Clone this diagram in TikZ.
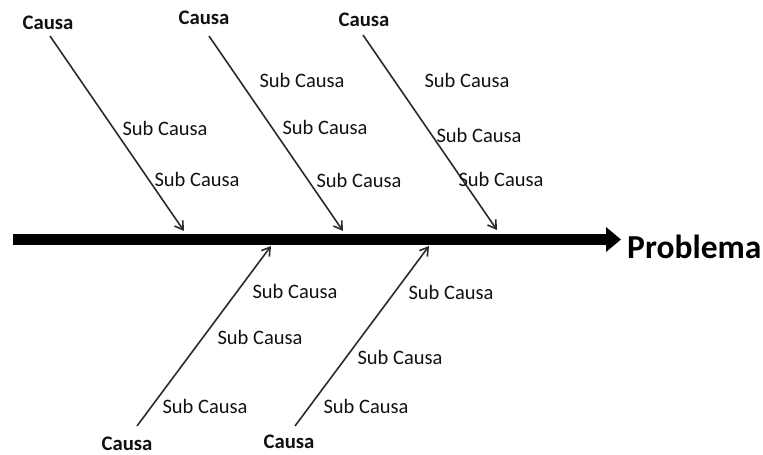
\documentclass[tikz,border=0pt]{standalone}
\usepackage{fontspec}
\setmainfont{Carlito}
\usetikzlibrary{arrows.meta}
\definecolor{ink}{HTML}{111111}
\definecolor{bone}{HTML}{2B2B2B}
\tikzset{
  causa/.style={font=\fontsize{20.7}{24}\selectfont\bfseries, text=ink, inner sep=0pt},
  sub/.style={font=\fontsize{20.5}{24}\selectfont, text=ink, inner sep=0pt},
  boneline/.style={draw=bone, line width=1.6pt, -{Straight Barb[length=8pt,width=10pt,line width=1.6pt]}},
  spine/.style={draw=black, line width=11pt, -{Triangle[length=15pt,width=24pt]}},
}
\begin{document}
\begin{tikzpicture}[x=1pt,y=-1pt]
\useasboundingbox (0,0) rectangle (763,455);
% spine
\coordinate (s0) at (13,239.5);
\node[font=\fontsize{33.5}{38}\selectfont\bfseries, text=black, inner sep=0pt, anchor=west] (prob) at (627,247) {Problema};
\coordinate (s1) at (621,239.5);
\draw[spine] (s0) -- (s1);
% top causes
\node[causa] (c1) at (48,23) {Causa};
\node[causa] (c2) at (204,18) {Causa};
\node[causa] (c3) at (364,20) {Causa};
\coordinate (c1s) at (50,36);  \coordinate (c1e) at (184,231);
\coordinate (c2s) at (209,36); \coordinate (c2e) at (343,231);
\coordinate (c3s) at (363,35); \coordinate (c3e) at (497,230);
\draw[boneline] (c1s) -- (c1e);
\draw[boneline] (c2s) -- (c2e);
\draw[boneline] (c3s) -- (c3e);
% bottom causes
\node[causa] (c4) at (127,444) {Causa};
\node[causa] (c5) at (289,442) {Causa};
\coordinate (c4s) at (137,426); \coordinate (c4e) at (271,246);
\coordinate (c5s) at (295,426); \coordinate (c5e) at (429,246);
\draw[boneline] (c4s) -- (c4e);
\draw[boneline] (c5s) -- (c5e);
% sub causes
\node[sub] (a1) at (165,128) {Sub Causa};
\node[sub] (a2) at (197,179) {Sub Causa};
\node[sub] (b1) at (302,80) {Sub Causa};
\node[sub] (b2) at (325,127) {Sub Causa};
\node[sub] (b3) at (359,180) {Sub Causa};
\node[sub] (d1) at (467,80) {Sub Causa};
\node[sub] (d2) at (479,135) {Sub Causa};
\node[sub] (d3) at (501,179) {Sub Causa};
\node[sub] (e1) at (295,291) {Sub Causa};
\node[sub] (e2) at (260,337) {Sub Causa};
\node[sub] (e3) at (205,406) {Sub Causa};
\node[sub] (f1) at (451,292) {Sub Causa};
\node[sub] (f2) at (400,357) {Sub Causa};
\node[sub] (f3) at (366,406) {Sub Causa};
\end{tikzpicture}
\end{document}
